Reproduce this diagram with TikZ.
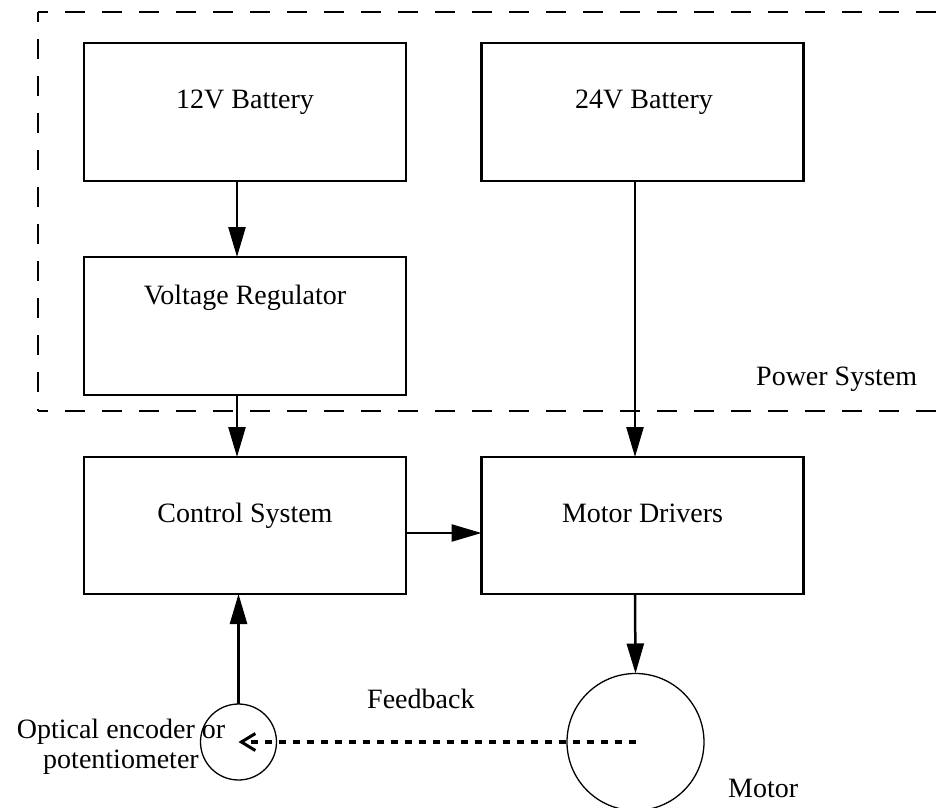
\documentclass[tikz,border=0pt]{standalone}
\usepackage{fontspec}
\setmainfont{Liberation Serif}
\usetikzlibrary{arrows.meta}
\begin{document}
\begin{tikzpicture}[x=1pt,y=-1pt,
  every node/.style={font=\fontsize{28}{30}\selectfont},
  blockbox/.style={draw,line width=2.8pt,rectangle,minimum width=322pt,minimum height=138pt,inner sep=0pt,outer sep=0pt},
  wheel/.style={draw,line width=1.3pt,circle,inner sep=0pt,outer sep=0pt},
  label/.style={inner sep=0pt,anchor=base},
  flow/.style={line width=2.5pt,-{Triangle[length=30pt,width=17pt]}},
  groupline/.style={line width=2.5pt,dash pattern=on 20pt off 17pt,dash phase=10pt},
  fbline/.style={line width=3.5pt,dash pattern=on 7pt off 7pt,-{Straight Barb[length=14pt,width=17pt,line width=3pt]}}
]
\useasboundingbox (0,0) rectangle (945,808);

% power system group
\coordinate (gtl) at (38,12);
\coordinate (gbl) at (38,411);
\coordinate (gtr) at (960,12);
\coordinate (gbr) at (960,411);
\draw[groupline] (gtl) -- (gtr);
\draw[groupline] (gtl) -- (gbl);
\draw[groupline] (gbl) -- (gbr);
\node[label,anchor=base west] (tps) at (756,385) {Power System};

% blocks
\node[blockbox] (b12) at (245,112) {};
\node[blockbox] (b24) at (642.5,112) {};
\node[blockbox] (vr) at (245,326) {};
\node[blockbox,minimum height=137pt] (ctl) at (245,525.5) {};
\node[blockbox,minimum height=137pt] (md) at (642.5,525.5) {};

\node[label] (t12) at (245,108) {12V Battery};
\node[label] (t24) at (644,108) {24V Battery};
\node[label] (tvr) at (245,304) {Voltage Regulator};
\node[label] (tctl) at (245,522) {Control System};
\node[label] (tmd) at (642.5,522) {Motor Drivers};

% sensor and motor
\node[wheel,minimum size=76pt] (enc) at (238.5,742) {};
\node[wheel,minimum size=137pt] (motor) at (635.5,742) {};
\node[label,align=center] (tenc) at (121,768) {Optical encoder or\\potentiometer};
\node[label,anchor=base west] (tmot) at (728,797) {Motor};
\node[label,anchor=base west] (tfb) at (367,708) {Feedback};

% connections
\draw[flow] ([xshift=-8pt]b12.south) -- ([xshift=-8pt]vr.north);
\draw[flow] ([xshift=-8pt]vr.south) -- ([xshift=-8pt]ctl.north);
\draw[flow] ([xshift=-7.5pt]b24.south) -- ([xshift=-7.5pt]md.north);
\draw[flow] ([yshift=-7.5pt]ctl.east) -- ([yshift=-7.5pt]md.west);
\draw[flow] ([xshift=-7.5pt]md.south) -- (motor.north);
\draw[flow] (enc.north) -- (enc.north |- ctl.south);
\draw[fbline] (motor.center) -- (enc.center);
\end{tikzpicture}
\end{document}
